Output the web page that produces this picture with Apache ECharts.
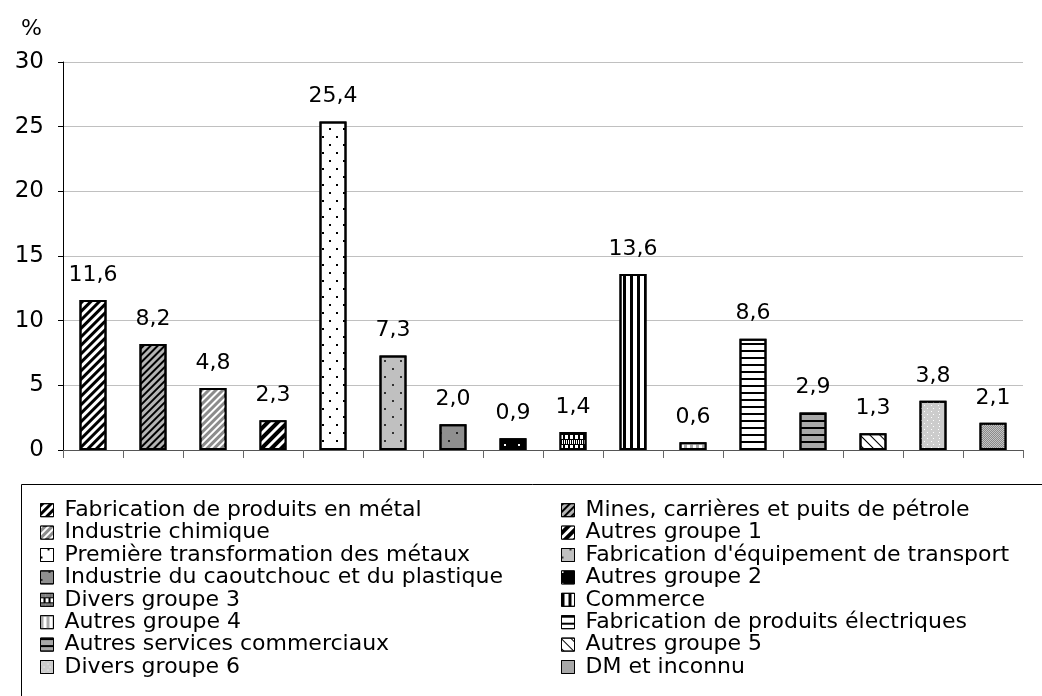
<!DOCTYPE html>
<html>
<head>
<meta charset="utf-8">
<script src="https://cdn.jsdelivr.net/npm/echarts@6/dist/echarts.min.js"></script>
<style>
  html, body { margin: 0; padding: 0; background: #fff; }
  #chart { width: 1042px; height: 696px; }
</style>
</head>
<body>
<div id="chart"></div>
<script>
const categories = [
	"Fabrication de produits en métal",
	"Mines, carrières et puits de pétrole",
	"Industrie chimique",
	"Autres groupe 1",
	"Première transformation des métaux",
	"Fabrication d'équipement de transport",
	"Industrie du caoutchouc et du plastique",
	"Autres groupe 2",
	"Divers groupe 3",
	"Commerce",
	"Autres groupe 4",
	"Fabrication de produits électriques",
	"Autres services commerciaux",
	"Autres groupe 5",
	"Divers groupe 6",
	"DM et inconnu"
];

const values = [11.6, 8.2, 4.8, 2.3, 25.4, 7.3, 2.0, 0.9, 1.4, 13.6, 0.6, 8.6, 2.9, 1.3, 3.8, 2.1];

const yTicks = { min: 0, max: 30, interval: 5 };

const FONT = "DejaVu Sans";
const R = Math.PI / 4;

// fill colour + decal pattern for each bar
const looks = [
	{ color: "#ffffff", decal: { symbol: "rect", symbolSize: 1, color: "#000", dashArrayX: [1, 0], dashArrayY: [3, 3], rotation: -R } },
	{ color: "#b4b4b4", decal: { symbol: "rect", symbolSize: 1, color: "#000", dashArrayX: [1, 0], dashArrayY: [2, 3], rotation: -R } },
	{ color: "#8c8c8c", decal: { symbol: "rect", symbolSize: 1, color: "#fff", dashArrayX: [1, 0], dashArrayY: [2, 3], rotation: -R } },
	{ color: "#000000", decal: { symbol: "rect", symbolSize: 1, color: "#fff", dashArrayX: [1, 0], dashArrayY: [3, 4], rotation: -R } },
	{ color: "#ffffff", decal: { symbol: "rect", symbolSize: 1, color: "#000", dashArrayX: [[2, 12], [0, 7, 2, 5]], dashArrayY: [2, 6] } },
	{ color: "#c0c0c0", decal: { symbol: "rect", symbolSize: 1, color: "#333", dashArrayX: [[2, 14], [0, 8, 2, 6]], dashArrayY: [2, 6] } },
	{ color: "#8f8f8f", decal: { symbol: "rect", symbolSize: 1, color: "#222", dashArrayX: [[2, 14], [0, 8, 2, 6]], dashArrayY: [2, 6] } },
	{ color: "#000000", decal: { symbol: "rect", symbolSize: 1, color: "#fff", dashArrayX: [2, 12], dashArrayY: [2, 10] } },
	{ color: "#000000", decal: { symbol: "rect", symbolSize: 1, color: "#fff", dashArrayX: [[3, 2], [1, 1]], dashArrayY: [4, 1] } },
	{ color: "#ffffff", decal: { symbol: "rect", symbolSize: 1, color: "#000", dashArrayX: [3, 4], dashArrayY: [1, 0] } },
	{ color: "#ffffff", decal: { symbol: "rect", symbolSize: 1, color: "#aaaaaa", dashArrayX: [3, 3], dashArrayY: [1, 0] } },
	{ color: "#ffffff", decal: { symbol: "rect", symbolSize: 1, color: "#000", dashArrayX: [1, 0], dashArrayY: [2, 5] } },
	{ color: "#a8a8a8", decal: { symbol: "rect", symbolSize: 1, color: "#000", dashArrayX: [1, 0], dashArrayY: [2, 5] } },
	{ color: "#ffffff", decal: { symbol: "rect", symbolSize: 1, color: "#000", dashArrayX: [1, 0], dashArrayY: [1, 6], rotation: R } },
	{ color: "#cccccc", decal: { symbol: "rect", symbolSize: 1, color: "#ffffff", dashArrayX: [[1, 6], [0, 3, 1, 2]], dashArrayY: [1, 2] } },
	{ color: "#c4c4c4", decal: { symbol: "rect", symbolSize: 1, color: "#8a8a8a", dashArrayX: [[1, 1], [0, 1, 1, 0]], dashArrayY: [1, 0] } }
];

const chart = echarts.init(document.getElementById("chart"), null, { renderer: "canvas" });

const series = categories.map((name, i) => ({
	name: name,
	type: "bar",
	barWidth: 27,
	barGap: "-100%",
	data: values.map((v, j) => (j === i ? v : "-")),
	itemStyle: {
		color: looks[i].color,
		decal: looks[i].decal,
		borderColor: "#000",
		borderWidth: 2
	},
	label: {
		show: true,
		position: "top",
		distance: 14,
		color: "#000",
		fontFamily: FONT,
		fontSize: 22,
		formatter: (p) => p.value.toFixed(1).replace(".", ",")
	}
}));

const legendCommon = {
	orient: "vertical",
	icon: "rect",
	itemWidth: 13,
	itemHeight: 13,
	itemGap: 0,
	selectedMode: false,
	textStyle: {
		color: "#000",
		fontFamily: FONT,
		fontSize: 22,
		lineHeight: 22.4,
		padding: [0, 0, 0, 6]
	},
	itemStyle: { borderWidth: 1 }
};

const option = {
	animation: false,
	textStyle: { fontFamily: FONT },
	grid: { left: 63, right: 19, top: 62, bottom: 246 },
	graphic: [
		{
			type: "rect",
			shape: { x: 21.5, y: 484.5, width: 1040, height: 230 },
			style: { fill: "none", stroke: "#000", lineWidth: 1 },
			silent: true
		},
		{
			type: "text",
			left: 21,
			top: 18,
			style: { text: "%", fontFamily: FONT, fontSize: 22, fill: "#000" }
		}
	],
	legend: [
		Object.assign({}, legendCommon, {
			left: 35,
			top: 494,
			data: categories.filter((c, i) => i % 2 === 0)
		}),
		Object.assign({}, legendCommon, {
			left: 556,
			top: 494,
			data: categories.filter((c, i) => i % 2 === 1)
		})
	],
	xAxis: {
		type: "category",
		data: categories,
		axisLine: { lineStyle: { color: "#555", width: 1 } },
		axisTick: { show: true, interval: 0, length: 8, lineStyle: { color: "#666" } },
		axisLabel: { show: false }
	},
	yAxis: {
		type: "value",
		min: yTicks.min,
		max: yTicks.max,
		interval: yTicks.interval,
		axisLine: { show: true, lineStyle: { color: "#000", width: 1 } },
		axisTick: { show: true, length: 5, lineStyle: { color: "#000" } },
		axisLabel: { color: "#000", fontFamily: FONT, fontSize: 23, margin: 19 },
		splitLine: { lineStyle: { color: "#c0c0c0", width: 1 } }
	},
	series: series
};

chart.setOption(option);
</script>
</body>
</html>
